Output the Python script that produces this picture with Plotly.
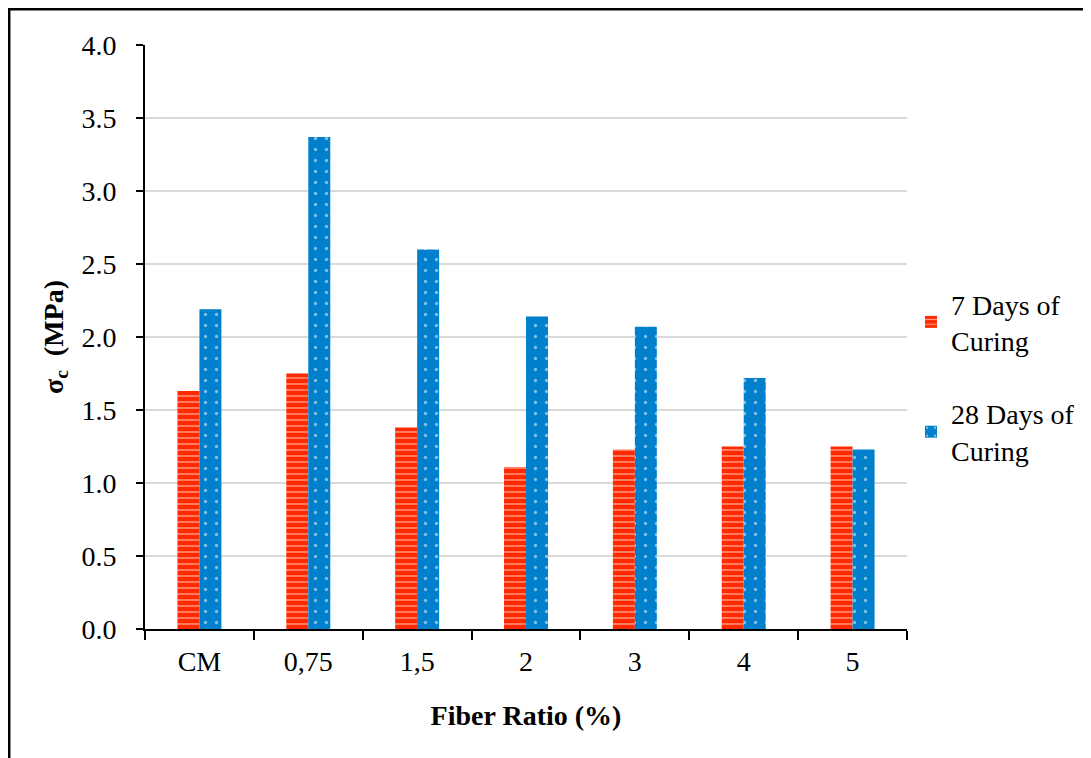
import plotly.graph_objects as go

categories = ["CM", "0,75", "1,5", "2", "3", "4", "5"]
days7 = [1.63, 1.75, 1.38, 1.11, 1.23, 1.25, 1.25]
days28 = [2.19, 3.37, 2.60, 2.14, 2.07, 1.72, 1.23]
series_names = ["7 Days of<br>Curing", "28 Days of<br>Curing"]
y_ticks = [0.0, 0.5, 1.0, 1.5, 2.0, 2.5, 3.0, 3.5, 4.0]

RED = "#FF2A00"
BLUE = "#0080CC"
FONT = "Liberation Serif, Times New Roman, serif"

fig = go.Figure()
fig.add_trace(go.Bar(
    x=categories, y=days7, name=series_names[0], legendgroup="a",
    marker=dict(color=RED, line=dict(width=0),
                pattern=dict(shape="-", fgcolor="white", bgcolor=RED, size=6, solidity=0.25, fillmode="overlay")),
))
fig.add_trace(go.Bar(
    x=categories, y=days28, name=series_names[1], legendgroup="b",
    marker=dict(color=BLUE, line=dict(width=0),
                pattern=dict(shape=".", fgcolor="white", bgcolor=BLUE, size=11, solidity=0.07, fillmode="overlay")),
))

# page body has an 8px margin; shift everything up/left by 8
OFF = 8
W, H = 1091 - OFF, 758 - OFF
L, R, T, B = 145 - OFF, 907 - OFF, 45 - OFF, 629 - OFF
pw, ph = R - L, B - T

def px(x):
    return (x - OFF - L) / pw

def py(y):
    return (B - (y - OFF)) / ph

fig.update_layout(
    width=W, height=H,
    margin=dict(l=L, r=W - R, t=T, b=H - B, autoexpand=False),
    paper_bgcolor="white", plot_bgcolor="white",
    font=dict(family=FONT, size=28, color="black"),
    barmode="group", bargap=0.596, bargroupgap=0,
    showlegend=True,
    legend=dict(x=px(911), xanchor="left", y=py(377), yanchor="middle",
                font=dict(size=28), tracegroupgap=34, itemwidth=30,
                bgcolor="rgba(0,0,0,0)"),
    xaxis=dict(
        type="category", tickson="boundaries", ticks="outside", ticklen=9, tickwidth=2,
        tickcolor="black", showline=True, linecolor="black", linewidth=2,
        showgrid=False, tickfont=dict(size=28), ticklabelstandoff=6, automargin=False,
        title=dict(text="<b>Fiber Ratio (%)</b>", font=dict(size=28), standoff=30),
    ),
    yaxis=dict(
        range=[0, 4.0], tickvals=y_ticks, tickformat=".1f", ticks="outside", ticklen=7,
        tickwidth=2, tickcolor="black", showline=True, linecolor="black", linewidth=2,
        showgrid=True, gridcolor="#D9D9D9", gridwidth=1.5, zeroline=False,
        tickfont=dict(size=28), ticklabelstandoff=14, automargin=False,
        title=dict(text="<b>σ<sub>c</sub>  (MPa)</b>", font=dict(size=28), standoff=10),
    ),
    shapes=[
        dict(type="line", xref="paper", yref="paper", x0=px(9.2), x1=px(9.2), y0=py(9.2), y1=py(800),
             line=dict(color="black", width=2.5)),
        dict(type="line", xref="paper", yref="paper", x0=px(8), x1=px(1100), y0=py(9.2), y1=py(9.2),
             line=dict(color="black", width=2.5)),
    ],
)

fig.write_html("out.html")
